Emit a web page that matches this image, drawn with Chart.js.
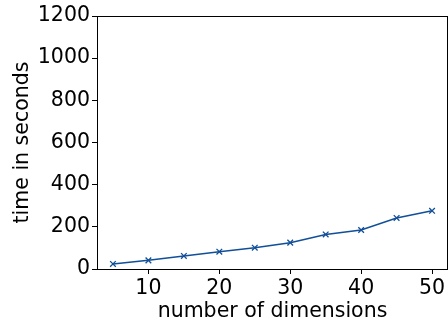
<!DOCTYPE html>
<html>
<head>
<meta charset="utf-8">
<script src="https://cdn.jsdelivr.net/npm/chart.js@4/dist/chart.umd.min.js"></script>
<style>
  html, body { margin: 0; padding: 0; background: #fff; }
  #wrap { width: 448px; height: 329px; }
</style>
</head>
<body>
<div id="wrap"><canvas id="c"></canvas></div>
<script>
// Runtime vs. number of dimensions
const dimensions = [5, 10, 15, 20, 25, 30, 35, 40, 45, 50];
const seconds = [24, 41, 62, 82, 101, 125, 164, 185, 242, 276];
const xTickValues = [10, 20, 30, 40, 50];
const yTickValues = [0, 200, 400, 600, 800, 1000, 1200];

const lineColor = '#114f98';
const font = { family: 'DejaVu Sans', size: 20.5 };

// Full rectangular frame around the plotting area
const framePlugin = {
  id: 'frame',
  afterDraw(chart) {
    const a = chart.chartArea, ctx = chart.ctx;
    ctx.save();
    ctx.strokeStyle = '#000';
    ctx.lineWidth = 1;
    ctx.strokeRect(Math.round(a.left) + 0.5, Math.round(a.top) + 0.5,
                   Math.round(a.right - a.left) - 1, Math.round(a.bottom - a.top));
    ctx.restore();
  }
};

new Chart(document.getElementById('c'), {
  type: 'line',
  data: {
    datasets: [{
      data: dimensions.map((d, i) => ({ x: d, y: seconds[i] })),
      borderColor: lineColor,
      backgroundColor: lineColor,
      borderWidth: 1.5,
      pointStyle: 'crossRot',
      pointRadius: 4,
      pointBorderWidth: 1.3,
      pointBorderColor: lineColor,
      tension: 0
    }]
  },
  options: {
    responsive: true,
    maintainAspectRatio: false,
    animation: false,
    layout: { autoPadding: false, padding: { top: 16, right: 0, left: 0, bottom: 0 } },
    plugins: { legend: { display: false }, tooltip: { enabled: false } },
    scales: {
      x: {
        type: 'linear',
        min: 2.75,
        max: 52.25,
        afterBuildTicks: s => { s.ticks = xTickValues.map(v => ({ value: v })); },
        afterFit: s => { s.height = 60; s.paddingRight = 0; s.paddingLeft = 0; },
        grid: { drawOnChartArea: false, tickLength: 5, color: '#000', tickColor: '#000' },
        border: { color: '#000', width: 1 },
        ticks: { font, color: '#000', padding: 2, maxRotation: 0, callback: v => String(v) },
        title: { display: true, text: 'number of dimensions', font, color: '#000', padding: { top: 0, bottom: 5 } }
      },
      y: {
        type: 'linear',
        min: 0,
        max: 1200,
        afterBuildTicks: s => { s.ticks = yTickValues.map(v => ({ value: v })); },
        afterFit: s => { s.width = 97; },
        grid: { drawOnChartArea: false, tickLength: 5, color: '#000', tickColor: '#000' },
        border: { color: '#000', width: 1 },
        ticks: { font, color: '#000', padding: 2, callback: v => String(v) },
        title: { display: true, text: 'time in seconds', font, color: '#000', padding: { top: 10, bottom: 0 } }
      }
    }
  },
  plugins: [framePlugin]
});
</script>
</body>
</html>
